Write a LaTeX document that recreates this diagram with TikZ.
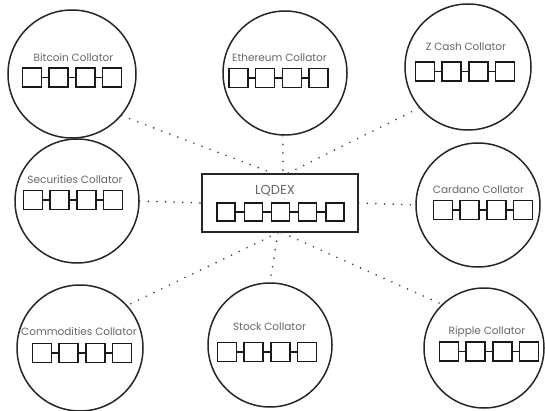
\documentclass[tikz,border=0pt]{standalone}
\usepackage{fontspec}
\setmainfont{Poppins}

\tikzset{
  collator/.style={circle, draw=black!85, line width=1.5pt, minimum size=124pt, inner sep=0pt},
  dex/.style={rectangle, draw=black!85, line width=1.5pt, minimum width=156pt, minimum height=58pt, inner sep=0pt},
  title/.style={font=\fontsize{10.5}{12}\selectfont, text=black!60, inner sep=0pt},
  block/.style={draw=black!90, line width=1.4pt, fill=white},
  link/.style={draw=black!75, line width=1.8pt, line cap=round, dash pattern=on 0pt off 8.6pt},
}

% a row of blocks joined by short links: #1 centre, #2 blocks, #3 block size, #4 gap
\newcommand{\blockchain}[4]{%
  \begin{scope}[shift={(#1)}]
    \pgfmathsetmacro{\chainlen}{#2*#3+(#2-1)*#4}
    \draw[block] (-\chainlen/2,0) -- (\chainlen/2,0);
    \foreach \i in {1,...,#2}
      \draw[block] ({-\chainlen/2+(\i-1)*(#3+#4)},{-#3/2}) rectangle ++(#3,#3);
  \end{scope}}

\begin{document}
\begin{tikzpicture}[x=1pt, y=-1pt]

  \useasboundingbox (0,0) rectangle (545,411);

  % Collators
  \node[collator, minimum size=128pt] (btc) at (72,74)  {};
  \node[collator]                     (eth) at (285,73) {};
  \node[collator, minimum size=126pt] (zec) at (468,67) {};
  \node[collator]                     (sec) at (77,201) {};
  \node[collator]                     (ada) at (478,205) {};
  \node[collator, minimum size=126pt] (com) at (80,348) {};
  \node[collator, minimum size=124pt] (stk) at (270,345) {};
  \node[collator, minimum size=120pt] (xrp) at (484,348) {};

  % Exchange in the middle
  \node[dex] (lq) at (280,203) {};

  % Titles
  \node[title] (btc-t) at (73.5,58) {Bitcoin Collator};
  \node[title] (eth-t) at (279.5,58) {Ethereum Collator};
  \node[title] (zec-t) at (466,47)  {Z Cash Collator};
  \node[title] (sec-t) at (75,180)  {Securities Collator};
  \node[title] (ada-t) at (478.5,190) {Cardano Collator};
  \node[title] (com-t) at (79,332)  {Commodities Collator};
  \node[title] (stk-t) at (269.5,327) {Stock Collator};
  \node[title] (xrp-t) at (487,332) {Ripple Collator};
  \node[title, font=\fontsize{13}{15}\selectfont] (lq-t) at (275,191) {LQDEX};

  % Chains
  \blockchain{72,77.5}{4}{19}{7.7}
  \blockchain{278.5,78}{4}{19}{7.7}
  \blockchain{465,71.5}{4}{19}{7.7}
  \blockchain{73,200}{4}{19}{7.7}
  \blockchain{483,210}{4}{19}{7.7}
  \blockchain{82,353}{4}{19}{7.7}
  \blockchain{267,352}{4}{19}{7.7}
  \blockchain{489,351.5}{4}{19}{7.7}
  \blockchain{280.5,212}{5}{18}{9.25}

  % Dotted links to the exchange
  \draw[link] (btc.-40) -- ([xshift=-7pt]lq.north);
  \draw[link] (eth.-92) -- ([xshift=3pt]lq.north);
  \draw[link] (zec.220) -- ([xshift=8pt]lq.north);
  \draw[link] (sec.east) -- (lq.west);
  \draw[link] (lq.east) -- (ada.west);
  \draw[link] ([xshift=-2pt]lq.south) -- (com.42);
  \draw[link] ([xshift=-2pt]lq.south) -- (stk.north);
  \draw[link] ([xshift=2pt]lq.south) -- (xrp.134);

\end{tikzpicture}
\end{document}
